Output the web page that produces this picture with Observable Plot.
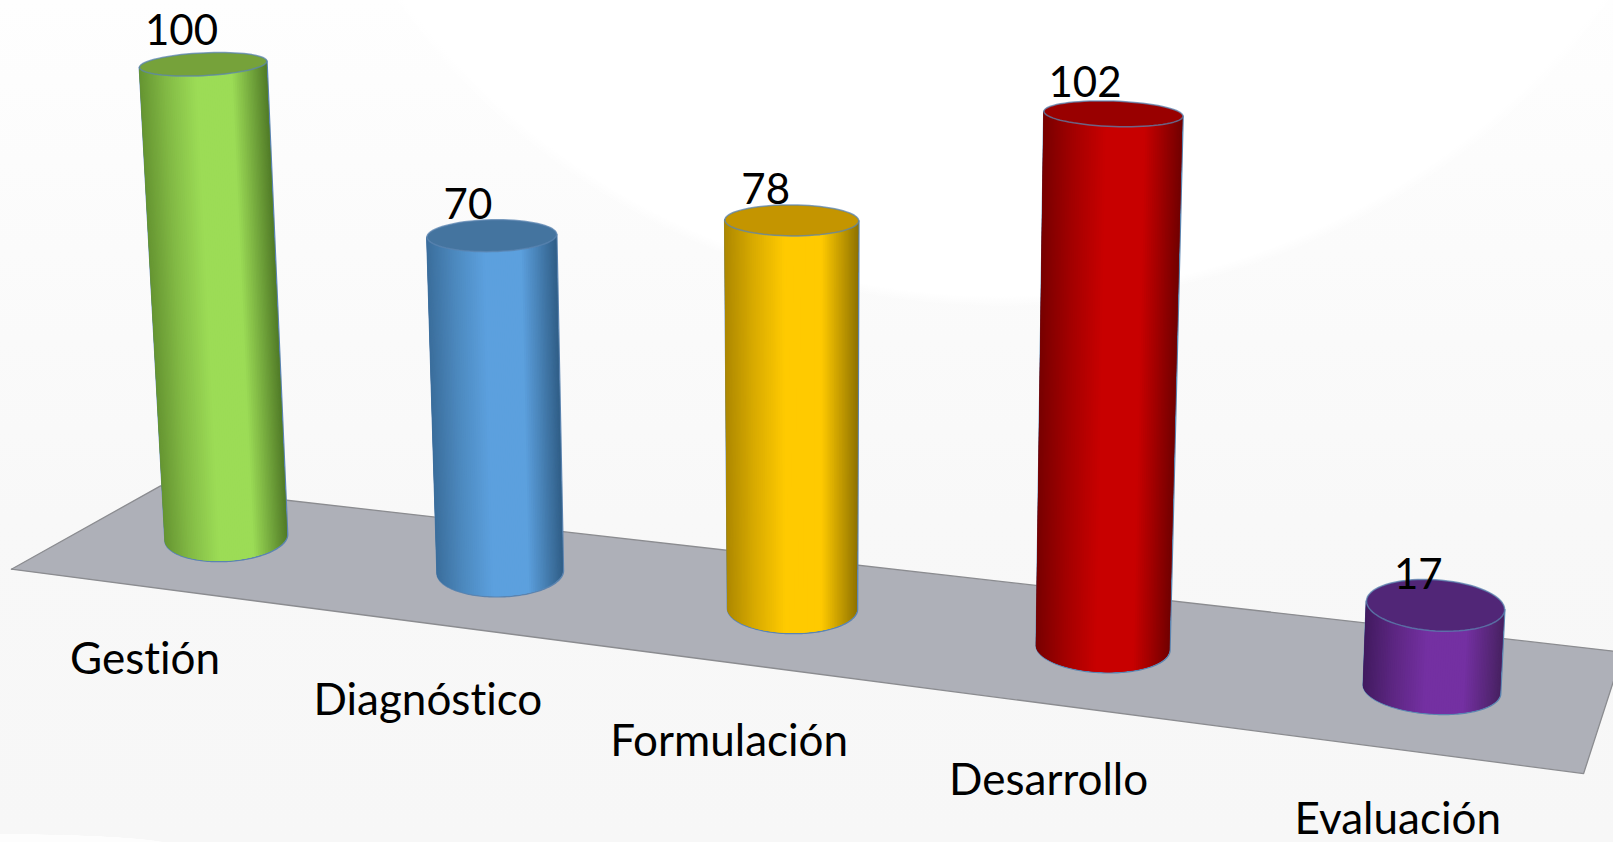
<!DOCTYPE html>
<html lang="es">
<head>
<meta charset="utf-8">
<script src="https://cdn.jsdelivr.net/npm/d3@7"></script>
<script src="https://cdn.jsdelivr.net/npm/@observablehq/plot@0.6"></script>
<style>
html,body{margin:0;padding:0;width:1613px;height:842px;overflow:hidden;
background:
 radial-gradient(ellipse 175px 12px at 0px 846px,#fdfdfd 98%,rgba(253,253,253,0) 100%),
 radial-gradient(ellipse 260px 40px at 1740px 880px,#fbfbfb 98%,rgba(251,251,251,0) 100%),
 radial-gradient(ellipse 747px 718px at 1003px -411px,#ffffff 98.5%,rgba(255,255,255,0) 100%),
 linear-gradient(#fefefe 0,#fcfcfc 160px,#f8f8f8 520px,#f7f7f7 100%);}
svg{display:block}
svg text{font-variant-ligatures:none}
</style>
</head>
<body>
<script>
const categories = ["Gestión", "Diagnóstico", "Formulación", "Desarrollo", "Evaluación"];
const values = [100, 70, 78, 102, 17];
const shadeLeft = ["#669532", "#3b6e9c", "#ad8800", "#780000", "#421b60"];
const shadeMid = ["#9cdc56", "#5ca0de", "#ffca00", "#c80000", "#7430a2"];
const shadeRight = ["#527c28", "#315f88", "#907300", "#720000", "#482262"];
const capColors = ["#76a23a", "#44749f", "#c49500", "#990000", "#512677"];

// Oblique, slightly perspective view: (category index, value) -> picture plane
const baseX = i => 219.5 + 257.4 * i + 8.9 * i * i;
const baseY = i => 522 + 0.1259 * (baseX(i) - 219.5);
const unit = i => 4.6 + 0.02 * i + 0.05 * i * i
  - 0.02 * (i * (i - 1) * (i - 2)) / 6
  - 0.60 * (i * (i - 1) * (i - 2) * (i - 3)) / 24;
const centerX = (i, v) => baseX(i) + v * (-0.225 + 0.108 * i);
const centerY = (i, v) => baseY(i) - v * unit(i);
const radius = (i, v) => (59.5 + 1.8 * i) * (1 + 0.0004 * v);
const flat = y => Math.min(24, 10.5 + 0.0262 * (y - 40));
const capFlat = y => 10.5 + 0.0262 * (y - 40);
const tilt = i => (-6 + 3.4 * i) / 125;
const ring = (i, v, a, squash) => {
  const r = radius(i, v), cy = centerY(i, v);
  return {
    x: centerX(i, v) + r * Math.cos(a),
    y: cy + squash(cy) * Math.sin(a) + tilt(i) * r * Math.cos(a)
  };
};

// Floor plate
const floorPoint = (i, d) => ({
  x: baseX(i) + d * (72.5 - (i + 0.54) * 10.6),
  y: baseY(i) + 7.5 - (i + 0.54) * 1.1 + d * (-40.5 - (i + 0.54) * 3.67)
});
const floor = [[-0.54, -1], [-0.54, 1], [4.5, 1], [4.5, -1], [-0.54, -1]].map(([i, d]) => floorPoint(i, d));

// Cylinder walls: narrow strips running from foot to cap, each lapping under the next
const stripCount = 90;
const strips = [];
const outlines = [];
values.forEach((v, i) => {
  const paint = d3.scaleLinear()
    .domain([-1, -0.55, -0.1, 0.45, 1])
    .range([shadeLeft[i], d3.interpolateRgb(shadeLeft[i], shadeMid[i])(0.55), shadeMid[i], shadeMid[i], shadeRight[i]])
    .interpolate(d3.interpolateRgb);
  for (let s = 0; s < stripCount; ++s) {
    const a0 = Math.PI - (s / stripCount) * Math.PI;
    const a1 = Math.PI - (Math.min(s + 3, stripCount) / stripCount) * Math.PI;
    const aMid = Math.PI - ((s + 0.5) / stripCount) * Math.PI;
    const t0 = ring(i, v, a0, capFlat), t1 = ring(i, v, a1, capFlat);
    const b0 = ring(i, 0, a0, flat), b1 = ring(i, 0, a1, flat);
    const fill = paint(Math.cos(aMid));
    const id = i + "-" + s;
    strips.push({id, fill, x1: t0.x, y1: t0.y, x2: t1.x, y2: t1.y});
    strips.push({id, fill, x1: b0.x, y1: b0.y, x2: b1.x, y2: b1.y});
  }
  const points = [ring(i, v, Math.PI, capFlat)];
  for (let s = 0; s <= stripCount; ++s) points.push(ring(i, 0, Math.PI - (s / stripCount) * Math.PI, flat));
  points.push(ring(i, v, 0, capFlat));
  points.forEach(p => outlines.push({...p, i}));
});

// Cylinder caps
const caps = values.map((v, i) => d3.range(0, 73).map(k => ring(i, v, (k / 72) * 2 * Math.PI, capFlat)));

const valueLabels = values.map((v, i) => ({
  x: centerX(i, v) - 21 - 2.2 * i + (i === 4 ? 13 : 0),
  y: centerY(i, v) - 32 + (i > 0 ? 3 : 0),
  text: String(v)
}));
const categoryLabels = categories.map((c, i) => ({
  x: baseX(i) - 79 + 8.7 * i + (i === 4 ? 11 : 0),
  y: baseY(i) + 119 + 8 * i - 1.5 * i * i,
  text: c
}));

const chart = Plot.plot({
  width: 1613,
  height: 842,
  margin: 0,
  style: {background: "transparent"},
  x: {domain: [0, 1568], axis: null},
  y: {domain: [818.5, 0], axis: null},
  color: {type: "identity"},
  marks: [
    Plot.line(floor, {x: "x", y: "y", fill: "#aeb0b8", stroke: "#8b8c90", strokeWidth: 1.3}),
    Plot.line(outlines, {x: "x", y: "y", z: "i", stroke: "#5b84b0", strokeWidth: 1.8}),
    Plot.area(strips, {x1: "x1", y1: "y1", x2: "x2", y2: "y2", z: "id", fill: "fill"}),
    ...caps.map((cap, i) => Plot.line(cap, {x: "x", y: "y", fill: capColors[i], stroke: "#5b84b0", strokeWidth: 1.5, strokeOpacity: 0.75})),
    Plot.text(valueLabels, {x: "x", y: "y", text: "text", fontSize: 42, fontFamily: "Lato", fill: "#000"}),
    Plot.text(categoryLabels, {x: "x", y: "y", text: "text", fontSize: 44, fontFamily: "Lato", fill: "#000"})
  ]
});
document.body.appendChild(chart);
</script>
</body>
</html>
